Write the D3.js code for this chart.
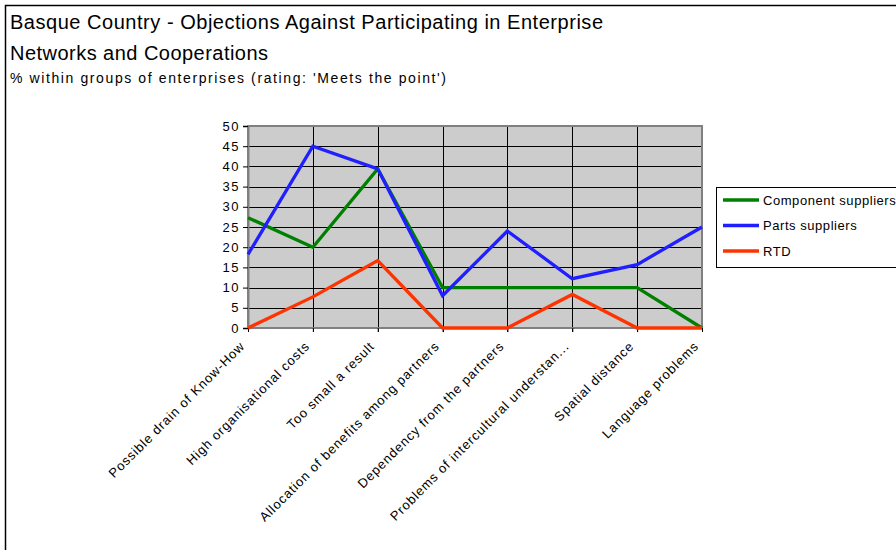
<!DOCTYPE html>
<html>
<head>
<meta charset="utf-8">
<script src="https://cdn.jsdelivr.net/npm/d3@7"></script>
<style>
  html, body { margin: 0; padding: 0; background: #fff; }
  svg { display: block; font-family: "Liberation Sans", Arial, sans-serif; }
</style>
</head>
<body>
<svg id="chart" width="896" height="550"></svg>
<script>
// Objection categories along the x axis
const categories = [
  "Possible drain of Know-How",
  "High organisational costs",
  "Too small a result",
  "Allocation of benefits among partners",
  "Dependency from the partners",
  "Problems of intercultural understan...",
  "Spatial distance",
  "Language problems"
];

// Share of enterprises rating each objection as 'Meets the point' (%)
const componentSuppliers = [27.3, 20, 39.4, 10, 10, 10, 10, 0];
const partsSuppliers     = [18.2, 45, 39.4, 8, 24, 12.2, 15.7, 25];
const rtd                = [0, 7.7, 16.7, 0, 0, 8.3, 0, 0];

const seriesNames = ["Component suppliers", "Parts suppliers", "RTD"];
const yTicks = [0, 5, 10, 15, 20, 25, 30, 35, 40, 45, 50];

const series = [
  { name: seriesNames[0], values: componentSuppliers, color: "#008000" },
  { name: seriesNames[1], values: partsSuppliers,     color: "#1f1fff" },
  { name: seriesNames[2], values: rtd,                color: "#ff3300" }
];

const svg = d3.select("#chart");

// Outer chart frame (extends past the right and bottom edges)
svg.append("rect")
  .attr("x", 5.5).attr("y", 5.5)
  .attr("width", 1000).attr("height", 1000)
  .attr("fill", "none").attr("stroke", "#000").attr("stroke-width", 1.5);

// Titles, stretched to the chart's wide letter spacing
svg.append("text").attr("x", 10).attr("y", 29)
  .attr("font-size", 20).attr("fill", "#000")
  .attr("textLength", 593).attr("lengthAdjust", "spacing")
  .text("Basque Country - Objections Against Participating in Enterprise");
svg.append("text").attr("x", 10).attr("y", 60)
  .attr("font-size", 20).attr("fill", "#000")
  .attr("textLength", 258).attr("lengthAdjust", "spacing")
  .text("Networks and Cooperations");
svg.append("text").attr("x", 10).attr("y", 83)
  .attr("font-size", 14).attr("fill", "#000")
  .attr("textLength", 436).attr("lengthAdjust", "spacing")
  .text("% within groups of enterprises (rating: 'Meets the point')");

const plot = { left: 248, right: 702, top: 126, bottom: 328 };

const x = d3.scalePoint()
  .domain(categories)
  .range([plot.left, plot.right]);

const y = d3.scaleLinear()
  .domain([0, 50])
  .range([plot.bottom, plot.top]);

// Plot background
svg.append("rect")
  .attr("x", plot.left).attr("y", plot.top)
  .attr("width", plot.right - plot.left)
  .attr("height", plot.bottom - plot.top)
  .attr("fill", "#cccccc");

// Horizontal gridlines
svg.append("g")
  .selectAll("line")
  .data(yTicks.filter(d => d > 0 && d < 50))
  .join("line")
  .attr("x1", plot.left).attr("x2", plot.right)
  .attr("y1", d => Math.round(y(d)) + 0.5).attr("y2", d => Math.round(y(d)) + 0.5)
  .attr("stroke", "#000").attr("stroke-width", 1);

// Vertical gridlines at each category
svg.append("g")
  .selectAll("line")
  .data(categories.slice(1, -1))
  .join("line")
  .attr("x1", d => Math.round(x(d)) + 0.5).attr("x2", d => Math.round(x(d)) + 0.5)
  .attr("y1", plot.top).attr("y2", plot.bottom + 4)
  .attr("stroke", "#000").attr("stroke-width", 1);

// Plot border
svg.append("rect")
  .attr("x", plot.left).attr("y", plot.top)
  .attr("width", plot.right - plot.left)
  .attr("height", plot.bottom - plot.top)
  .attr("fill", "none").attr("stroke", "#808080").attr("stroke-width", 2);

// Y axis
const yAxis = svg.append("g")
  .attr("transform", `translate(${plot.left},0)`)
  .call(d3.axisLeft(y).tickValues(yTicks).tickSize(5).tickPadding(3));
yAxis.select(".domain").attr("stroke", "#808080").attr("stroke-width", 2);
yAxis.selectAll(".tick line").attr("stroke", "#000");
yAxis.selectAll(".tick text")
  .attr("font-size", 13).attr("fill", "#000")
  .attr("letter-spacing", 1.5)
  .attr("font-family", "Liberation Sans, Arial, sans-serif");

// X axis labels, rotated
const xAxis = svg.append("g")
  .attr("transform", `translate(0,${plot.bottom})`)
  .call(d3.axisBottom(x).tickSize(4).tickPadding(0));
xAxis.select(".domain").remove();
xAxis.selectAll(".tick line").attr("stroke", "#000");
xAxis.selectAll(".tick text")
  .attr("font-size", 13).attr("fill", "#000")
  .attr("letter-spacing", 0.9)
  .attr("font-family", "Liberation Sans, Arial, sans-serif")
  .attr("text-anchor", "end")
  .attr("transform", "translate(-9,13) rotate(-45)")
  .attr("dy", "0.35em");

// Series lines
const line = d3.line()
  .x((d, i) => x(categories[i]))
  .y(d => y(d));

svg.append("g")
  .selectAll("path")
  .data(series)
  .join("path")
  .attr("d", d => line(d.values))
  .attr("fill", "none")
  .attr("stroke", d => d.color)
  .attr("stroke-width", 3.3)
  .attr("stroke-linejoin", "miter");

// Legend
const legend = svg.append("g");
legend.append("rect")
  .attr("x", 716.5).attr("y", 187.5)
  .attr("width", 300).attr("height", 80)
  .attr("fill", "#fff").attr("stroke", "#000").attr("stroke-width", 1);

const item = legend.selectAll("g.item")
  .data(series)
  .join("g")
  .attr("class", "item")
  .attr("transform", (d, i) => `translate(0,${200 + i * 25.5})`);
item.append("line")
  .attr("x1", 723).attr("x2", 759)
  .attr("stroke", d => d.color).attr("stroke-width", 3.3);
item.append("text")
  .attr("x", 763).attr("y", 0).attr("dy", "0.35em")
  .attr("font-size", 13).attr("fill", "#000")
  .attr("letter-spacing", 0.55)
  .text(d => d.name);
</script>
</body>
</html>
